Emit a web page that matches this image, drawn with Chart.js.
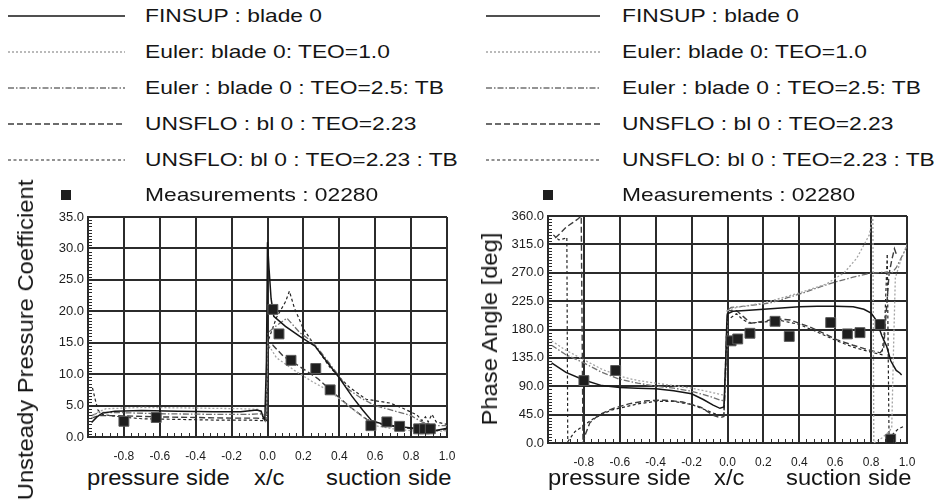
<!DOCTYPE html>
<html>
<head>
<meta charset="utf-8">
<script src="https://cdn.jsdelivr.net/npm/chart.js@4.4.1/dist/chart.umd.min.js"></script>
<style>
  body { margin:0; width:949px; height:501px; overflow:hidden; position:relative; background:#fff;
         font-family:"Liberation Sans", Arial, sans-serif; color:#151515; }
  .abs { position:absolute; white-space:nowrap; }
  .legtxt { font-size:19px; transform:scaleX(1.2); transform-origin:left center; line-height:22px; }
  .word { font-size:22px; line-height:26px; transform:scaleX(1.08); transform-origin:left center; }
  .ytitle { font-size:22px; transform-origin:center center; transform:translate(-50%,-50%) rotate(-90deg) scaleX(1.08); }
  canvas { position:absolute; }
</style>
</head>
<body>
<canvas id="cp" width="440" height="260" style="left:30px;top:205px"></canvas>
<canvas id="ph" width="459" height="267" style="left:490px;top:204px"></canvas>
<div id="legend"></div>
<script>
// legend texts
const legendLabels = [
  'FINSUP : blade 0',
  'Euler: blade 0: TEO=1.0',
  'Euler : blade 0 : TEO=2.5: TB',
  'UNSFLO : bl 0 : TEO=2.23',
  'UNSFLO: bl 0 : TEO=2.23 : TB',
  'Measurements : 02280'
];

// tick label range
const xTickMin = -1.0, xTickMax = 1.0, xTickStep = 0.2;

// ---- left panel: unsteady pressure coefficient (x/c, cp) ----
const cpFinsup = [[-0.98,2.3],[-0.95,3.2],[-0.92,3.8],[-0.85,4.1],[-0.7,4.2],[-0.5,4.1],[-0.3,4.0],[-0.15,4.0],[-0.06,4.3],[-0.035,4.1],[-0.025,3.2],[-0.015,2.7],[-0.006,12],[0.0,31.0],[0.008,27],[0.02,22],[0.035,19.2],[0.1,17.6],[0.18,16.0],[0.267,14.4],[0.33,12.0],[0.4,9.4],[0.47,6.5],[0.53,4.3],[0.58,2.6],[0.65,2.0],[0.75,1.6],[0.85,1.3],[0.93,1.0],[1.0,1.4]];
const cpEuler = [[-0.98,3.0],[-0.95,3.9],[-0.9,4.5],[-0.7,4.7],[-0.4,4.6],[-0.15,4.5],[-0.05,4.4],[-0.025,3.6],[-0.01,3.0],[0.0,15.0],[0.02,14.0],[0.05,12.6],[0.15,10.6],[0.25,8.8],[0.34,7.4],[0.45,5.0],[0.53,3.2],[0.6,1.8],[0.7,1.3],[0.8,1.0],[0.9,0.8],[1.0,1.0]];
const cpEulerTb = [[-0.98,3.4],[-0.94,3.9],[-0.85,3.9],[-0.6,3.7],[-0.3,3.6],[-0.1,3.6],[-0.04,3.7],[-0.02,3.1],[-0.005,3.0],[0.0,16.5],[0.04,17.5],[0.108,18.9],[0.18,16.6],[0.248,15.2],[0.3,13.4],[0.38,10.4],[0.45,7.6],[0.52,6.2],[0.6,5.0],[0.7,4.2],[0.8,3.4],[0.86,2.4],[0.92,1.8],[1.0,1.8]];
const cpUnsflo = [[-0.98,3.0],[-0.94,3.4],[-0.85,3.4],[-0.6,3.2],[-0.4,3.1],[-0.2,3.0],[-0.06,3.0],[-0.02,2.9],[-0.005,2.8],[0.0,14.0],[0.03,14.6],[0.09,12.8],[0.18,11.2],[0.28,9.3],[0.37,7.0],[0.45,5.0],[0.553,2.8],[0.65,1.9],[0.75,1.5],[0.85,1.2],[0.93,1.0],[1.0,1.2]];
const cpUnsfloTb = [[-0.975,7.8],[-0.96,6.0],[-0.945,4.3],[-0.92,3.6],[-0.85,3.3],[-0.7,2.9],[-0.5,2.8],[-0.3,2.7],[-0.1,2.7],[-0.03,2.6],[-0.005,2.6],[0.0,15.0],[0.05,19.0],[0.1,21.5],[0.122,23.2],[0.15,20.5],[0.2,17.2],[0.267,14.4],[0.35,11.0],[0.453,8.0],[0.55,6.0],[0.683,5.4],[0.76,4.5],[0.833,3.5],[0.86,2.6],[0.88,3.2],[0.895,2.4],[0.916,3.6],[0.94,2.4],[1.0,2.0]];
const cpMeas = [[-0.8,2.5],[-0.62,3.1],[0.03,20.3],[0.064,16.4],[0.131,12.2],[0.269,10.9],[0.349,7.5],[0.576,1.8],[0.665,2.4],[0.736,1.7],[0.842,1.3],[0.875,1.3],[0.907,1.3]];

// ---- right panel: phase angle [deg] ----
const phFinsup = [[-0.98,127],[-0.9,112],[-0.8,100],[-0.7,91],[-0.6,88],[-0.5,87],[-0.4,86],[-0.3,83],[-0.2,78],[-0.135,69],[-0.08,60],[-0.042,55],[-0.02,57],[-0.01,130],[-0.004,190],[0.0,205],[0.03,209],[0.1,210],[0.2,212],[0.3,214],[0.4,216],[0.5,217],[0.6,217],[0.7,216],[0.76,212],[0.8,206],[0.83,194],[0.86,170],[0.887,153],[0.91,130],[0.94,115],[0.96,111],[0.97,108]];
const phEuler = [[-0.98,162],[-0.9,147],[-0.8,132],[-0.7,117],[-0.6,106],[-0.5,99],[-0.4,95],[-0.3,91],[-0.2,87],[-0.1,81],[-0.04,77],[-0.015,76],[-0.005,150],[0.0,210],[0.05,215],[0.2,222],[0.4,238],[0.55,252],[0.65,270],[0.72,293],[0.79,330],[0.81,360],[0.815,0],[0.86,8],[0.9,18],[0.915,24],[0.925,150],[0.935,262],[0.96,285],[1.0,315]];
const phEulerTb = [[-0.98,155],[-0.9,140],[-0.8,127],[-0.7,112],[-0.6,101],[-0.5,95],[-0.4,90],[-0.3,87],[-0.2,82],[-0.1,74],[-0.04,68],[-0.015,67],[-0.005,150],[0.0,210],[0.02,215],[0.1,217],[0.237,222],[0.33,230],[0.422,238],[0.52,248],[0.608,256],[0.7,263],[0.794,269],[0.88,271],[0.91,268],[0.94,278],[0.97,295],[1.0,312]];
const phUnsflo = [[-0.96,325],[-0.93,333],[-0.9,342],[-0.86,350],[-0.83,356],[-0.815,360],[-0.805,0],[-0.79,15],[-0.767,32],[-0.72,44],[-0.636,55],[-0.55,62],[-0.45,67],[-0.35,68],[-0.25,65],[-0.15,57],[-0.079,44],[-0.04,40],[-0.02,42],[-0.008,150],[0.0,210],[0.05,210],[0.09,200],[0.13,190],[0.2,193],[0.27,197],[0.35,195],[0.45,185],[0.55,172],[0.608,164],[0.7,155],[0.794,147],[0.85,143],[0.87,150],[0.885,210],[0.9,268],[0.915,290],[0.93,308],[0.94,300]];
const phUnsfloTb = [[-0.97,330],[-0.94,322],[-0.91,324],[-0.895,326],[-0.89,2],[-0.85,18],[-0.8,28],[-0.75,38],[-0.65,52],[-0.5,62],[-0.4,66],[-0.3,66],[-0.2,61],[-0.1,50],[-0.05,44],[-0.02,45],[-0.006,150],[0.0,195],[0.05,205],[0.08,197],[0.12,190],[0.2,192],[0.3,194],[0.4,188],[0.5,176],[0.6,163],[0.7,152],[0.8,144],[0.86,140],[0.875,180],[0.89,300],[0.895,150],[0.9,8],[0.95,22],[0.98,26]];
const phMeas = [[-0.8,99],[-0.623,115],[0.02,162],[0.057,165],[0.125,174],[0.265,193],[0.344,169],[0.575,191],[0.668,173],[0.738,175],[0.85,188],[0.909,6]];

// line looks, same order as the legend
const seriesStyle = [
  { color:'#161616', width:1.5, dash:[] },
  { color:'#a4a4a4', width:1.3, dash:[2,2] },
  { color:'#707070', width:1.3, dash:[6,2,1.5,2] },
  { color:'#3c3c3c', width:1.4, dash:[6,3] },
  { color:'#262626', width:1.2, dash:[3,2.5] }
];

const pts = a => a.map(([x, y]) => ({ x, y }));
const fmt = v => (Math.abs(v) < 1e-9 ? 0 : v).toFixed(1);

// inner tick marks along bottom and left axis
const minorTicks = {
  id: 'minorTicks',
  afterDatasetsDraw(chart, args, o) {
    const { ctx, chartArea: a, scales: { x, y } } = chart;
    ctx.save();
    ctx.strokeStyle = '#2b2b2b';
    ctx.lineWidth = 1;
    ctx.beginPath();
    for (let v = xTickMin; v <= xTickMax + 1e-9; v += o.xStep) {
      const px = Math.round(x.getPixelForValue(v)) + 0.5;
      ctx.moveTo(px, a.bottom); ctx.lineTo(px, a.bottom - 4);
    }
    for (let v = 0; v <= y.max + 1e-9; v += o.yStep) {
      const py = Math.round(y.getPixelForValue(v)) + 0.5;
      ctx.moveTo(a.left, py); ctx.lineTo(a.left + 4, py);
    }
    ctx.stroke();
    ctx.restore();
  }
};

function makePanel(id, lines, meas, yMax, yStep, yMinor, padRight, xH) {
  const datasets = lines.map((l, i) => ({
    data: pts(l),
    borderColor: seriesStyle[i].color,
    borderWidth: seriesStyle[i].width,
    borderDash: seriesStyle[i].dash,
    pointRadius: 0,
    showLine: true,
    tension: 0,
    order: 2
  }));
  datasets.push({
    data: pts(meas),
    showLine: false,
    pointStyle: 'rect',
    pointRadius: 7,
    backgroundColor: '#1e1e1e',
    borderColor: '#5a5a5a',
    borderWidth: 1,
    order: 1
  });
  return new Chart(document.getElementById(id), {
    type: 'scatter',
    data: { datasets },
    plugins: [minorTicks],
    options: {
      responsive: false,
      animation: false,
      layout: { padding: { top: 12, right: padRight, left: 0, bottom: 0 } },
      plugins: { legend: { display: false }, tooltip: { enabled: false }, minorTicks: { xStep: 0.04, yStep: yMinor } },
      scales: {
        x: {
          type: 'linear', min: xTickMin, max: xTickMax,
          afterFit: s => { s.height = xH; },
          grid: { color: '#2b2b2b', lineWidth: 2, drawTicks: false },
          border: { color: '#2b2b2b', width: 2 },
          ticks: {
            stepSize: xTickStep, padding: 12, maxRotation: 0, autoSkip: false,
            color: '#1c1c1c', font: { family: 'Liberation Sans', size: 12 },
            callback: v => (Math.abs(v - xTickMin) < 1e-9 ? '' : fmt(v))
          }
        },
        y: {
          min: 0, max: yMax,
          afterFit: s => { s.width = 58; },
          grid: { color: '#2b2b2b', lineWidth: 2, drawTicks: false },
          border: { color: '#2b2b2b', width: 2 },
          ticks: {
            stepSize: yStep, padding: 4,
            color: '#1c1c1c', font: { family: 'Liberation Sans', size: 13 },
            callback: v => fmt(v)
          }
        }
      }
    }
  });
}

makePanel('cp', [cpFinsup, cpEuler, cpEulerTb, cpUnsflo, cpUnsfloTb], cpMeas, 35, 5, 0.5, 23, 28);
makePanel('ph', [phFinsup, phEuler, phEulerTb, phUnsflo, phUnsfloTb], phMeas, 360, 45, 5, 42, 28);

// legends, axis titles and the words under the x axis
const legendBlocks = [
  { lineX: 8, lineW: 117, textX: 145, markX: 61 },
  { lineX: 486, lineW: 114, textX: 622, markX: 543 }
];
const legendRowY = [16, 52, 88, 124, 160, 195];
const host = document.getElementById('legend');
let html = '';
legendBlocks.forEach(b => {
  legendLabels.forEach((t, i) => {
    const cy = legendRowY[i];
    if (i < 5) {
      const s = seriesStyle[i];
      html += `<svg class="abs" style="left:${b.lineX}px;top:${cy - 3}px" width="${b.lineW}" height="6">` +
        `<line x1="0" y1="3" x2="${b.lineW}" y2="3" stroke="${s.color}" stroke-width="${s.width}" stroke-dasharray="${s.dash.join(' ')}"/></svg>`;
    } else {
      html += `<div class="abs" style="left:${b.markX}px;top:${cy - 5}px;width:10px;height:10px;background:#1e1e1e"></div>`;
    }
    html += `<div class="abs legtxt" style="left:${b.textX}px;top:${cy - 11}px">${t}</div>`;
  });
});
const words = [
  ['pressure side', 87], ['x/c', 254], ['suction side', 326],
  ['pressure side', 548], ['x/c', 714], ['suction side', 786]
];
words.forEach(([t, x]) => { html += `<div class="abs word" style="left:${x}px;top:465px">${t}</div>`; });
html += `<div class="abs ytitle" style="left:26px;top:340px">Unsteady Pressure Coefficient</div>`;
html += `<div class="abs ytitle" style="left:490px;top:329px">Phase Angle [deg]</div>`;
host.innerHTML = html;
</script>
</body>
</html>
